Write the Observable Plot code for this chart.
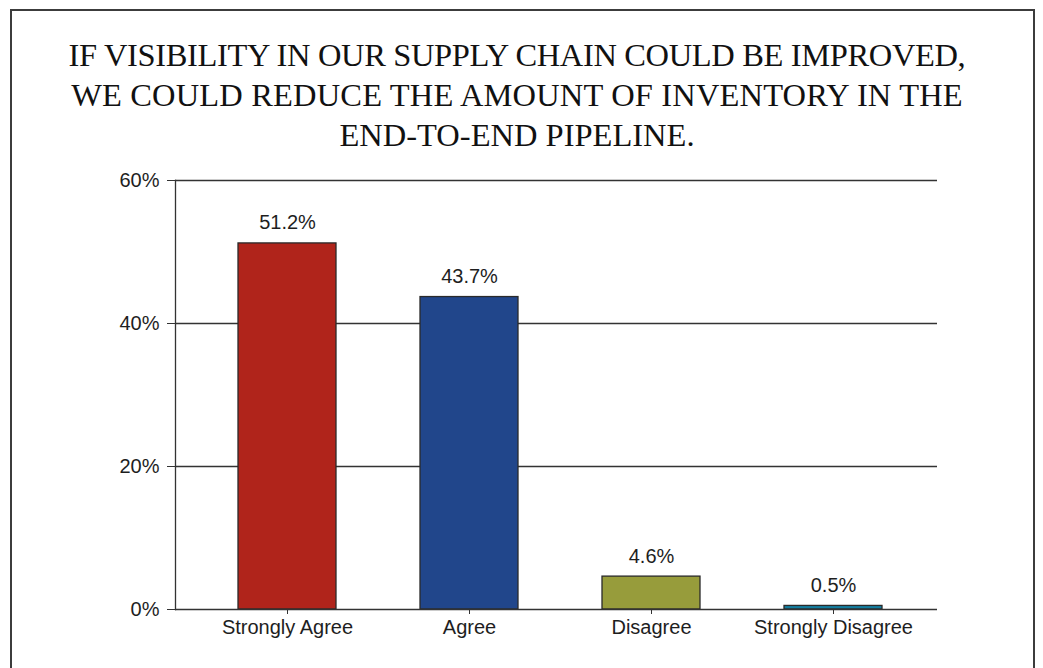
<!DOCTYPE html>
<html><head><meta charset="utf-8">
<script src="https://cdn.jsdelivr.net/npm/d3@7"></script>
<script src="https://cdn.jsdelivr.net/npm/@observablehq/plot@0.6"></script>
<style>
html,body{margin:0;padding:0;background:#fff;overflow:hidden;width:1043px;height:668px;}
#frame{position:absolute;left:10px;top:9px;width:1025px;height:700px;border:2px solid #3c3c3c;box-sizing:border-box;}
#title{position:absolute;left:0;top:35px;width:1034px;text-align:center;font-family:"Liberation Serif","Times New Roman",serif;font-size:32.5px;line-height:40px;color:#111;}
#title .l1{letter-spacing:-0.36px;}
#title .l2{letter-spacing:0.15px;}
#chart{position:absolute;left:0;top:150px;}
</style></head><body>
<div id="frame"></div>
<div id="title"><span class="l1">IF VISIBILITY IN OUR SUPPLY CHAIN COULD BE IMPROVED,</span><br><span class="l2">WE COULD REDUCE THE AMOUNT OF INVENTORY IN THE</span><br><span>END-TO-END PIPELINE.</span></div>
<div id="chart"></div>
<script>
const categories = ["Strongly Agree", "Agree", "Disagree", "Strongly Disagree"];
const values = [51.2, 43.7, 4.6, 0.5];
const labels = ["51.2%", "43.7%", "4.6%", "0.5%"];
const colors = ["#b0241b", "#21468b", "#979c3b", "#137ea0"];
const yTicks = [0, 20, 40, 60];

const data = categories.map((c, i) => ({category: c, value: values[i], label: labels[i]}));

const plot = Plot.plot({
  width: 1043,
  height: 518,
  marginTop: 30,
  marginLeft: 175,
  marginRight: 106,
  marginBottom: 59,
  style: {fontFamily: '"Liberation Sans", Arial, sans-serif', fontSize: "20px", color: "#1e1e1e", background: "transparent"},
  x: {domain: categories, range: [238, 882], paddingInner: 84 / 182, paddingOuter: 0, label: null},
  y: {domain: [0, 60], label: null},
  color: {domain: categories, range: colors},
  marks: [
    Plot.gridY(yTicks.filter(d => d > 0), {stroke: "#333", strokeOpacity: 1, strokeWidth: 1.3}),
    Plot.barY(data, {x: "category", y: "value", fill: "category", stroke: "#2a2a2a", strokeWidth: 1.3}),
    Plot.axisY(yTicks, {tickSize: 8, tickPadding: 8, tickFormat: d => d + "%", label: null, stroke: "#333", fontSize: 20}),
    Plot.axisX({tickSize: 5, tickPadding: 5, label: null, stroke: "#333", fontSize: 20}),
    Plot.frame({anchor: "left", stroke: "#333", strokeWidth: 1.3}),
    Plot.ruleY([0], {stroke: "#333", strokeWidth: 1.3}),
    Plot.text(data, {x: "category", y: "value", text: "label", dy: -14, lineAnchor: "bottom", fontSize: 20, fill: "#1e1e1e"})
  ]
});
document.getElementById("chart").appendChild(plot);
</script>
</body></html>
